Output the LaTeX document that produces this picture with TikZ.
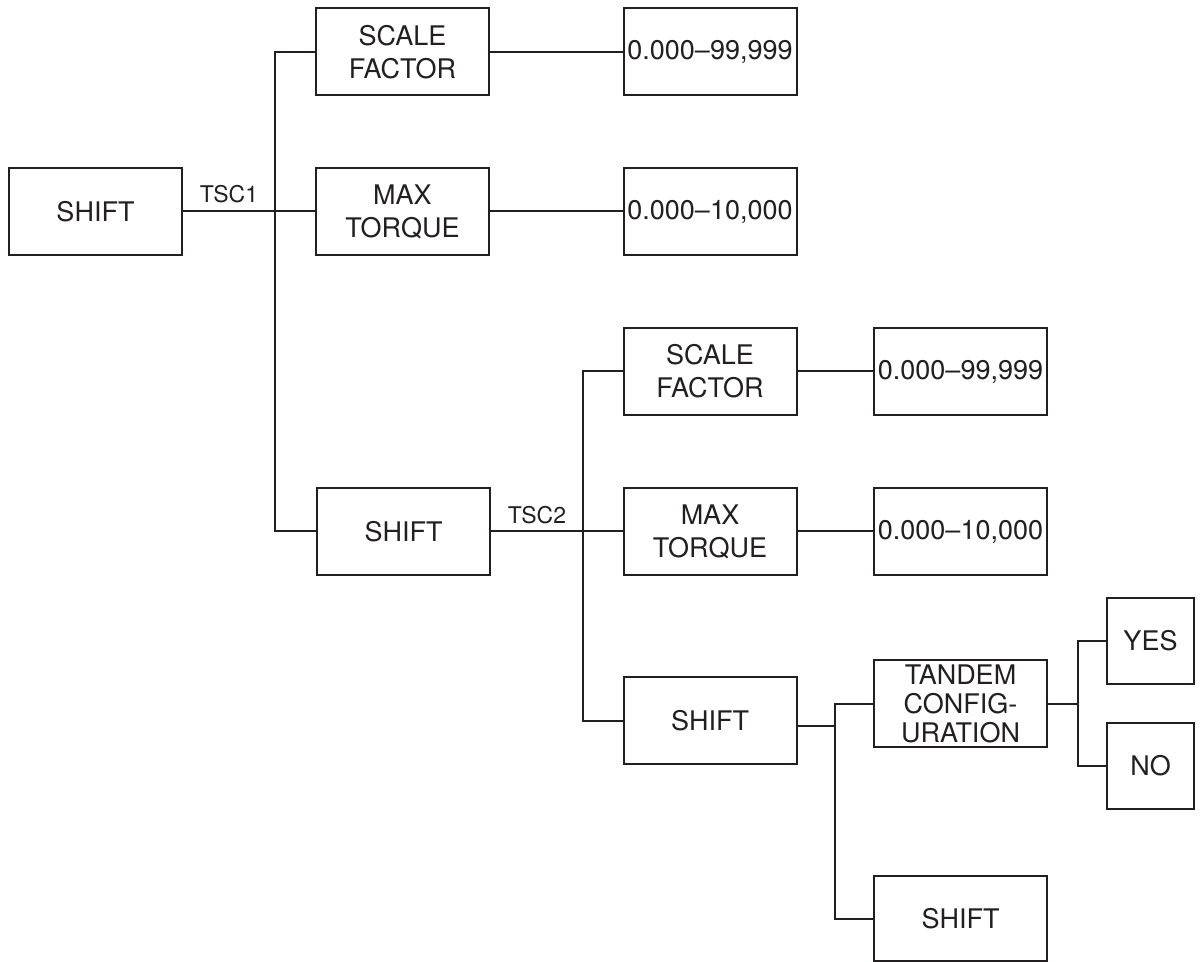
\documentclass[tikz,border=0pt]{standalone}
\usepackage{fontspec}
\setmainfont{TeX Gyre Heros}
\definecolor{ink}{RGB}{35,31,32}
\begin{document}
\begin{tikzpicture}[x=0.5pt,y=-0.5pt,
  box/.style={draw=ink,line width=1pt,rectangle,inner sep=0pt,
    minimum width=86.5pt,minimum height=43.5pt,align=center,text=ink,
    font=\fontsize{13.5}{16.5}\selectfont},
  sq/.style={box,minimum width=43.5pt,minimum height=43pt},
  conn/.style={draw=ink,line width=1pt},
  lbl/.style={text=ink,inner sep=0pt,font=\fontsize{11.5}{13}\selectfont}]
\useasboundingbox (0,0) rectangle (1200,962);
% nodes
\node[box] (s1) at (95.5,211.5) {SHIFT};
\node[box] (sf1) at (402.5,52) {SCALE\\FACTOR};
\node[box] (v1) at (710,52) {0.000–99,999};
\node[box] (mt1) at (402.5,211.5) {MAX\\TORQUE};
\node[box] (v2) at (710,211.5) {0.000–10,000};
\node[box] (s2) at (403.5,531.5) {SHIFT};
\node[box] (sf2) at (710,371.5) {SCALE\\FACTOR};
\node[box] (v3) at (960.5,371.5) {0.000–99,999};
\node[box] (mt2) at (710,531.5) {MAX\\TORQUE};
\node[box] (v4) at (960.5,531.5) {0.000–10,000};
\node[box] (s3) at (710,720.5) {SHIFT};
\node[box,font=\fontsize{13.5}{14.5}\selectfont] (t) at (960.5,703.5) {TANDEM\\CONFIG-\\URATION};
\node[sq] (yes) at (1150.5,641) {YES};
\node[sq] (no) at (1150.5,766) {NO};
\node[box,minimum height=42.5pt] (s4) at (960.5,918.5) {SHIFT};
% bus coordinates
\coordinate (b1) at (275,0);
\coordinate (b2) at (583,0);
\coordinate (b3) at (835,0);
\coordinate (b4) at (1078,0);
% connectors level 1
\path[conn] (s1.east) -- node[lbl,above=4pt] (tsc1) {TSC1} (s1.east -| b1);
\path[conn] (sf1.west) -- (sf1.west -| b1) -- (s2.west -| b1) -- (s2.west);
\path[conn] (mt1.west) -- (mt1.west -| b1);
\path[conn] (sf1.east) -- (v1.west);
\path[conn] (mt1.east) -- (v2.west);
% level 2
\path[conn] (s2.east) -- node[lbl,above=3.5pt] (tsc2) {TSC2} (s2.east -| b2);
\path[conn] (sf2.west) -- (sf2.west -| b2) -- (s3.west -| b2) -- (s3.west);
\path[conn] (mt2.west) -- (mt2.west -| b2);
\path[conn] (sf2.east) -- (v3.west);
\path[conn] (mt2.east) -- (v4.west);
% level 3
\path[conn] ([yshift=-2.75pt]s3.east) -- ([yshift=-2.75pt]s3.east -| b3);
\path[conn] (t.west) -- (t.west -| b3) -- (s4.west -| b3) -- (s4.west);
% level 4
\path[conn] (t.east) -- (t.east -| b4);
\path[conn] (yes.west) -- (yes.west -| b4) -- (no.west -| b4) -- (no.west);
\end{tikzpicture}
\end{document}
